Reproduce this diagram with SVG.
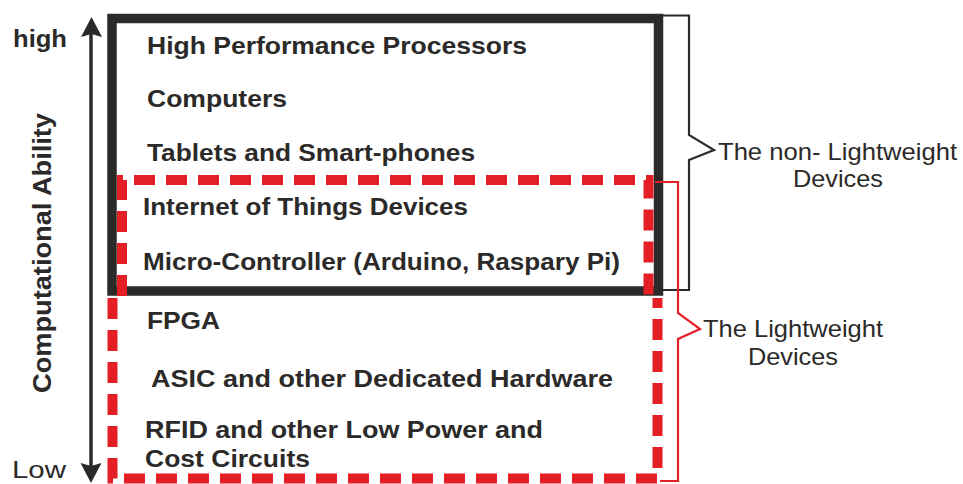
<svg xmlns="http://www.w3.org/2000/svg" width="963" height="484" viewBox="0 0 963 484">
<style>
.item{font-family:"Liberation Sans",Arial,sans-serif;font-weight:bold;font-size:23px;fill:#2b2a29}
.lbl{font-family:"Liberation Sans",Arial,sans-serif;font-size:24px;fill:#2b2a29}
.red{fill:none;stroke:#e31e25}
.blk{fill:none;stroke:#2b2a29}
</style>
<rect width="963" height="484" fill="#ffffff"/>
<g id="axis">
<line class="blk" x1="91" y1="32" x2="91" y2="468" stroke-width="3.5"/>
<polygon points="91.5,17 81,37 91.5,34 102,37" fill="#2b2a29"/>
<polygon points="91,483 80.5,463 91,466 101.5,463" fill="#2b2a29"/>
<text class="item" x="13" y="47" textLength="54" lengthAdjust="spacingAndGlyphs" style="font-size:24px">high</text>
<text class="lbl" x="12" y="478" textLength="54" lengthAdjust="spacingAndGlyphs">Low</text>
<text class="item" transform="translate(51,253) rotate(-90)" text-anchor="middle" textLength="280" lengthAdjust="spacingAndGlyphs" style="font-size:25px">Computational Ability</text>
</g>
<g id="nonlightweight">
<rect class="blk" x="112" y="18.5" width="546.5" height="272.5" stroke-width="9.5"/>
</g>
<g id="lightweight">
<path class="red" d="M122,296 V180 H648.5 V296" stroke-width="10" stroke-dasharray="21 11"/>
<path class="red" d="M112.5,298 V478.5 H657.5 V298" stroke-width="10" stroke-dasharray="21 11"/>
</g>
<g id="items">
<text class="item" x="147" y="54" textLength="380" lengthAdjust="spacingAndGlyphs">High Performance Processors</text>
<text class="item" x="147" y="107" textLength="140" lengthAdjust="spacingAndGlyphs">Computers</text>
<text class="item" x="147" y="161" textLength="328" lengthAdjust="spacingAndGlyphs">Tablets and Smart-phones</text>
<text class="item" x="143" y="215" textLength="325" lengthAdjust="spacingAndGlyphs">Internet of Things Devices</text>
<text class="item" x="143" y="270" textLength="477" lengthAdjust="spacingAndGlyphs">Micro-Controller (Arduino, Raspary Pi)</text>
<text class="item" x="147" y="329" textLength="73" lengthAdjust="spacingAndGlyphs">FPGA</text>
<text class="item" x="151" y="387" textLength="462" lengthAdjust="spacingAndGlyphs">ASIC and other Dedicated Hardware</text>
<text class="item" x="145" y="438" textLength="398" lengthAdjust="spacingAndGlyphs">RFID and other Low Power and</text>
<text class="item" x="145" y="467" textLength="165" lengthAdjust="spacingAndGlyphs">Cost Circuits</text>
</g>
<g id="connectors">
<path class="blk" d="M663,15.5 H689 V135 L714,150 L689,160 V290 H663" stroke-width="2.2" stroke-linejoin="miter"/>
<path class="red" d="M655,182 H678 V313 L700,329 L678,339 V481 H660" stroke-width="2.2"/>
</g>
<g id="labels">
<text class="lbl" x="718" y="160" textLength="239" lengthAdjust="spacingAndGlyphs">The non- Lightweight</text>
<text class="lbl" x="793" y="187" textLength="90" lengthAdjust="spacingAndGlyphs">Devices</text>
<text class="lbl" x="703" y="337" textLength="180" lengthAdjust="spacingAndGlyphs">The Lightweight</text>
<text class="lbl" x="748" y="365" textLength="90" lengthAdjust="spacingAndGlyphs">Devices</text>
</g>
</svg>
